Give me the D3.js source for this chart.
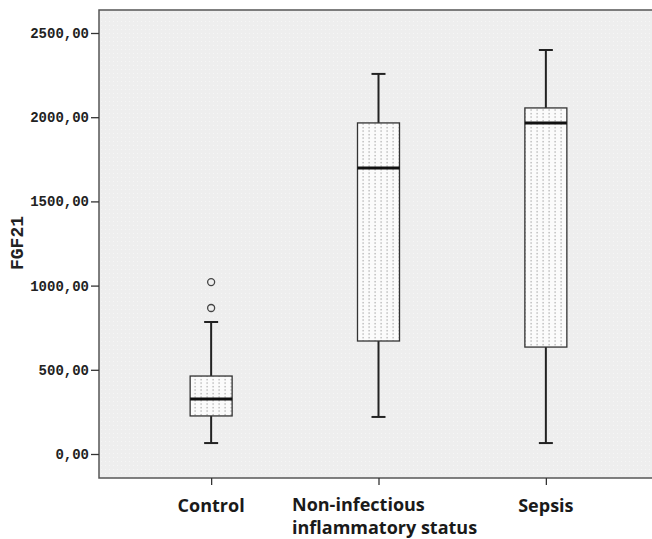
<!DOCTYPE html>
<html>
<head>
<meta charset="utf-8">
<script src="https://cdn.jsdelivr.net/npm/d3@7"></script>
<style>
  body { margin: 0; background: #fff; }
</style>
</head>
<body>
<script>
// groupes et valeurs
const groups = ["Control", "Non-infectious inflammatory status", "Sepsis"];
const groupLines = [["Control"], ["Non-infectious", "inflammatory status"], ["Sepsis"]];
const whiskerLow = [65, 220, 65];
const q1 = [226, 671, 635];
const median = [327, 1698, 1966];
const q3 = [463, 1966, 2055];
const whiskerHigh = [784, 2257, 2399];
const outliers = [[867, 1021], [], []];
const yTicks = [0, 500, 1000, 1500, 2000, 2500];

const width = 652, height = 539;
const plotLeft = 99, plotTop = 10, plotBottom = 478, plotRight = 658;
const monoFont = "'Liberation Mono', 'Courier New', Courier, monospace";

const svg = d3.select("body").append("svg")
    .attr("width", width)
    .attr("height", height);

const defs = svg.append("defs");
const pat = defs.append("pattern")
    .attr("id", "dots")
    .attr("patternUnits", "userSpaceOnUse")
    .attr("width", 6).attr("height", 3.5);
pat.append("rect").attr("width", 6).attr("height", 3.5).attr("fill", "#fbfbfb");
pat.append("rect").attr("x", 2.5).attr("y", 1).attr("width", 1.2).attr("height", 1.2).attr("fill", "#9a9a9a");

const bg = defs.append("pattern")
    .attr("id", "bgdots")
    .attr("patternUnits", "userSpaceOnUse")
    .attr("width", 4).attr("height", 4);
bg.append("rect").attr("width", 4).attr("height", 4).attr("fill", "#eeeeee");
bg.append("rect").attr("x", 1).attr("y", 1).attr("width", 1).attr("height", 1).attr("fill", "#f6f6f6");

const x = d3.scalePoint().domain(groups).range([plotLeft, plotRight]).padding(0.67);
const y = d3.scaleLinear().domain([0, 2500]).range([454, 33]);

// fond du graphique
svg.append("rect")
    .attr("x", plotLeft).attr("y", plotTop)
    .attr("width", plotRight - plotLeft).attr("height", plotBottom - plotTop)
    .attr("fill", "url(#bgdots)")
    .attr("stroke", "#555").attr("stroke-width", 1.5);

// axe Y
const yAxis = svg.append("g")
    .attr("transform", `translate(${plotLeft},0)`)
    .call(d3.axisLeft(y).tickValues(yTicks).tickSize(8).tickPadding(2)
        .tickFormat(d => d3.format(".2f")(d).replace(".", ",")));
yAxis.select(".domain").remove();
yAxis.selectAll("line").attr("stroke", "#333").attr("stroke-width", 1.3);
yAxis.selectAll("text")
    .attr("font-family", monoFont)
    .attr("font-weight", "bold")
    .attr("font-size", 14)
    .attr("fill", "#222");

// axe X
const xAxis = svg.append("g")
    .attr("transform", `translate(0,${plotBottom})`)
    .call(d3.axisBottom(x).tickSize(7).tickFormat(""));
xAxis.select(".domain").remove();
xAxis.selectAll("line").attr("stroke", "#333").attr("stroke-width", 1.3);

// labels des groupes
groups.forEach((g, i) => {
    const lines = groupLines[i];
    const t = svg.append("text")
        .attr("font-family", "Open Sans, sans-serif")
        .attr("font-weight", "bold")
        .attr("font-size", 18)
        .attr("fill", "#1a1a1a");
    if (lines.length === 1) {
        t.attr("x", x(g)).attr("y", 512).attr("text-anchor", "middle").text(lines[0]);
    } else {
        lines.forEach((l, k) => {
            t.append("tspan").attr("x", 292).attr("y", 511 + k * 23).text(l);
        });
    }
});

// titre de l'axe Y
svg.append("text")
    .attr("transform", "translate(23,243) rotate(-90)")
    .attr("text-anchor", "middle")
    .attr("font-family", monoFont)
    .attr("font-weight", "bold")
    .attr("font-size", 18)
    .attr("fill", "#222")
    .text("FGF21");

// boîtes
const boxW = 42, capW = 14;
const box = svg.selectAll(".box").data(groups).enter().append("g").attr("class", "box");

box.append("line")
    .attr("x1", d => x(d)).attr("x2", d => x(d))
    .attr("y1", (d, i) => y(whiskerLow[i])).attr("y2", (d, i) => y(whiskerHigh[i]))
    .attr("stroke", "#222").attr("stroke-width", 2);
box.append("line")
    .attr("x1", d => x(d) - capW / 2).attr("x2", d => x(d) + capW / 2)
    .attr("y1", (d, i) => y(whiskerLow[i])).attr("y2", (d, i) => y(whiskerLow[i]))
    .attr("stroke", "#222").attr("stroke-width", 2);
box.append("line")
    .attr("x1", d => x(d) - capW / 2).attr("x2", d => x(d) + capW / 2)
    .attr("y1", (d, i) => y(whiskerHigh[i])).attr("y2", (d, i) => y(whiskerHigh[i]))
    .attr("stroke", "#222").attr("stroke-width", 2);
box.append("rect")
    .attr("x", d => x(d) - boxW / 2).attr("width", boxW)
    .attr("y", (d, i) => y(q3[i])).attr("height", (d, i) => y(q1[i]) - y(q3[i]))
    .attr("fill", "url(#dots)")
    .attr("stroke", "#333").attr("stroke-width", 1.3);
box.append("line")
    .attr("x1", d => x(d) - boxW / 2).attr("x2", d => x(d) + boxW / 2)
    .attr("y1", (d, i) => y(median[i])).attr("y2", (d, i) => y(median[i]))
    .attr("stroke", "#111").attr("stroke-width", 3);

// valeurs extrêmes
groups.forEach((g, i) => {
    svg.selectAll(null).data(outliers[i]).enter().append("circle")
        .attr("cx", x(g)).attr("cy", d => y(d)).attr("r", 3.5)
        .attr("fill", "none").attr("stroke", "#444").attr("stroke-width", 1.3);
});
</script>
</body>
</html>
